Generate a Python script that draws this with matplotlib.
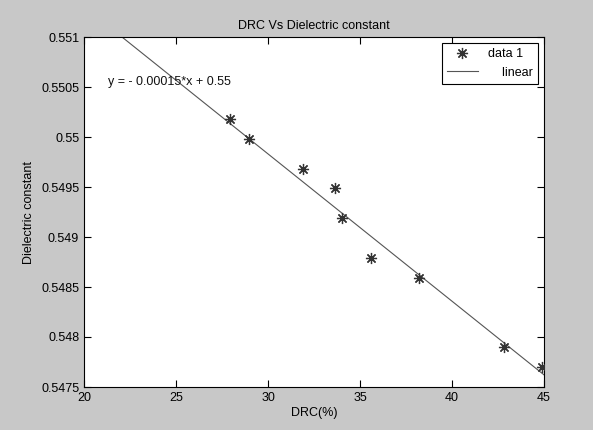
import numpy as np
import matplotlib
matplotlib.use("Agg")
import matplotlib.pyplot as plt
from matplotlib.ticker import FuncFormatter

# DRC (%) vs dielectric constant
drc = [27.95, 28.97, 31.92, 33.64, 34.03, 35.58, 38.2, 42.82, 44.91]
dielectric = [0.55018, 0.54998, 0.54968, 0.54949, 0.54919, 0.54879, 0.54859, 0.5479, 0.5477]

# fitted line as drawn in the picture (label is rounded)
fit_slope = -0.0001473
fit_intercept = 0.55425

x_ticks = [20, 25, 30, 35, 40, 45]
y_ticks = [0.5475, 0.548, 0.5485, 0.549, 0.5495, 0.55, 0.5505, 0.551]

plt.rcParams["font.family"] = ["Liberation Sans", "DejaVu Sans"]
plt.rcParams["font.size"] = 9

fig = plt.figure(figsize=(5.93, 4.30), dpi=100, facecolor="#c8c8c8")
ax = fig.add_axes([84 / 593, 43 / 430, 460 / 593, 350 / 430])
ax.set_facecolor("white")

xs = np.array([20, 45])
ax.plot(xs, np.polyval([fit_slope, fit_intercept], xs), color="#555555", lw=0.8,
        label="    linear", zorder=2)
ax.plot(drc, dielectric, linestyle="none", marker=(8, 2, 0), ms=8, mew=0.9,
        color="#333333", label="data 1", zorder=3)

ax.text(21.3, 0.55052, "y = - 0.00015*x + 0.55", fontsize=9, color="#111111",
        va="baseline")

ax.set_xlim(20, 45)
ax.set_ylim(0.5475, 0.551)
ax.set_xticks(x_ticks)
ax.set_yticks(y_ticks)
ax.yaxis.set_major_formatter(FuncFormatter(lambda v, p: "%g" % round(v, 4)))
ax.tick_params(direction="in", length=5, width=0.8, top=True, right=True, colors="black")
for s in ax.spines.values():
    s.set_linewidth(0.8)

ax.set_title("DRC Vs Dielectric constant", fontsize=9, pad=6)
ax.set_xlabel("DRC(%)", labelpad=2)
ax.set_ylabel("Dielectric constant", labelpad=4)

h, l = ax.get_legend_handles_labels()
leg = ax.legend(h[::-1], l[::-1], loc="upper right", fancybox=False, edgecolor="black",
                framealpha=1, handlelength=2.5, borderaxespad=0.5, fontsize=9)
leg.get_frame().set_linewidth(0.8)

fig.savefig("out.png", dpi=100, facecolor=fig.get_facecolor())
